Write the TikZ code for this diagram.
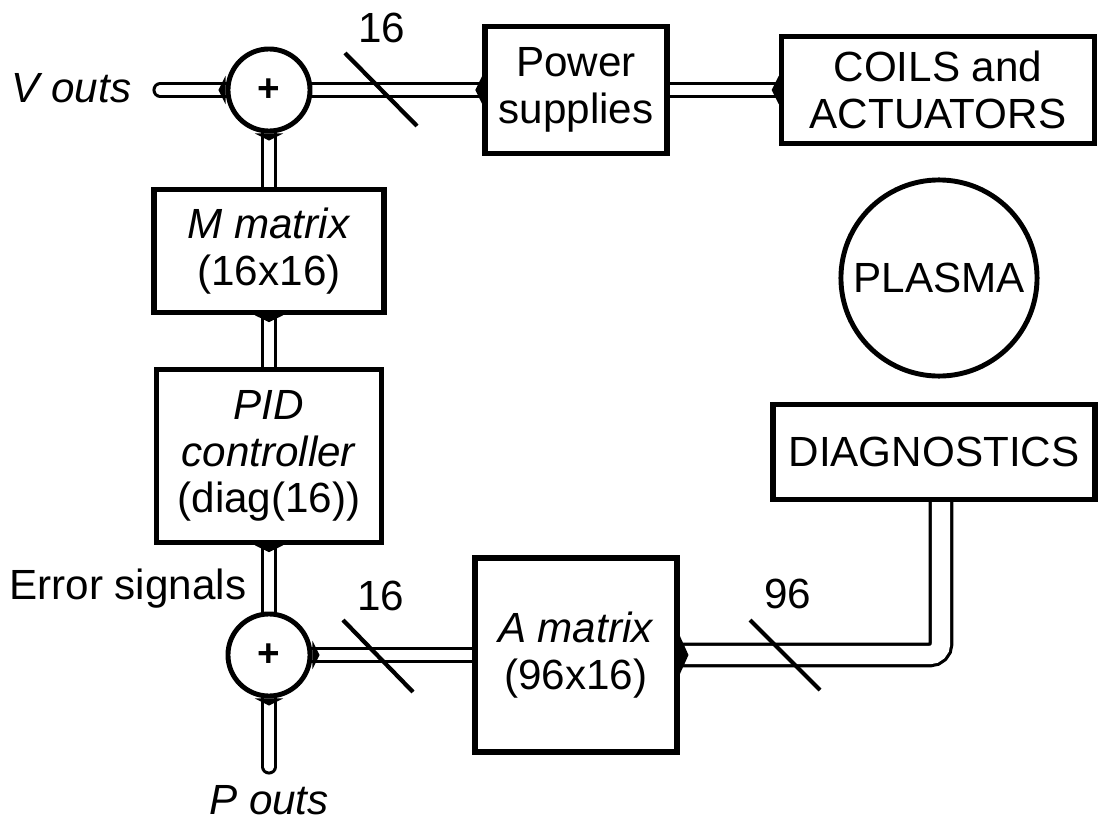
\documentclass[tikz,border=0pt]{standalone}
\usepackage{fontspec}
\setmainfont{Liberation Sans}
\usetikzlibrary{arrows.meta,positioning,backgrounds}

\begin{document}
\begin{tikzpicture}[x=0.01cm, y=-0.01cm, font=\fontsize{12}{13.2}\selectfont,
  blk/.style={draw, line width=1.5pt, fill=white, align=center, inner sep=0pt},
  sumj/.style={draw, circle, line width=1.4pt, fill=white, minimum size=0.82cm, inner sep=0pt},
  pipe/.style={double, line width=0.85pt, double distance=2.6pt,
    -{Triangle[reversed, length=2pt, width=8pt]}},
  bus/.style={double, line width=0.9pt, double distance=5.2pt, rounded corners=0.11cm,
    -{Triangle[reversed, length=2.5pt, width=11pt]}},
  slash/.style={line width=1.2pt}]

\useasboundingbox (0,0) rectangle (1111,824);

% Summing junctions
\node[sumj] (sum1) at (269,90) {\fontsize{11}{11}\bfseries +};
\node[sumj] (sum2) at (269,655) {\fontsize{11}{11}\bfseries +};

% Blocks
\node[blk, minimum width=1.82cm, minimum height=1.27cm] (pwr) at (576,90) {Power\\supplies};
\node[blk, minimum width=3.13cm, minimum height=1.07cm] (coils) at (938,90) {COILS and\\ACTUATORS};
\node[draw, circle, line width=1.4pt, minimum size=1.96cm, inner sep=0pt] (plasma) at (939,278) {PLASMA};
\node[blk, minimum width=3.22cm, minimum height=0.95cm] (diag) at (934,452) {DIAGNOSTICS};
\node[blk, minimum width=2.30cm, minimum height=1.23cm] (mmat) at (269,251) {\textit{M matrix}\\(16x16)};
\node[blk, minimum width=2.25cm, minimum height=1.73cm] (pid) at (269,456) {\textit{PID}\\\textit{controller}\\(diag(16))};
\node[blk, minimum width=2.02cm, minimum height=1.94cm] (amat) at (576,655) {\textit{A matrix}\\(96x16)};

% Outputs and labels
\node[anchor=east, inner sep=0pt] (vouts) at (132,88) {\itshape V outs};
\node[inner sep=0pt] (pouts) at (269,800) {\itshape P outs};
\node[anchor=east, inner sep=0pt] (errlbl) at (247,589) {Error signals};
\node (n16top) at (382,28) {16};
\node (n16bot) at (381,596) {16};
\node (n96) at (788,594) {96};
\coordinate (vend) at (160,90);
\coordinate (pend) at (269,767);
\coordinate (busx) at (941,0);

% Pipes
\begin{scope}[on background layer]
\draw[pipe] (sum1) -- (pwr);
\draw[pipe] (pwr) -- (coils);
\draw[pipe] (mmat) -- (sum1);
\draw[pipe] (pid) -- (mmat);
\draw[pipe] (sum2) -- (pid);
\draw[pipe] (amat) -- (sum2);
\draw[pipe, line cap=round] (vend) -- (sum1);
\draw[pipe, line cap=round] (pend) -- (sum2);
\draw[bus] (diag.south -| busx) |- (amat);
\end{scope}

% Bus width marks
\foreach \xa/\ya/\xb/\yb in {345/53/417/126, 343/620/413/692, 750/620/820/690}
  \draw[slash] (\xa,\ya) -- (\xb,\yb);

\end{tikzpicture}
\end{document}
